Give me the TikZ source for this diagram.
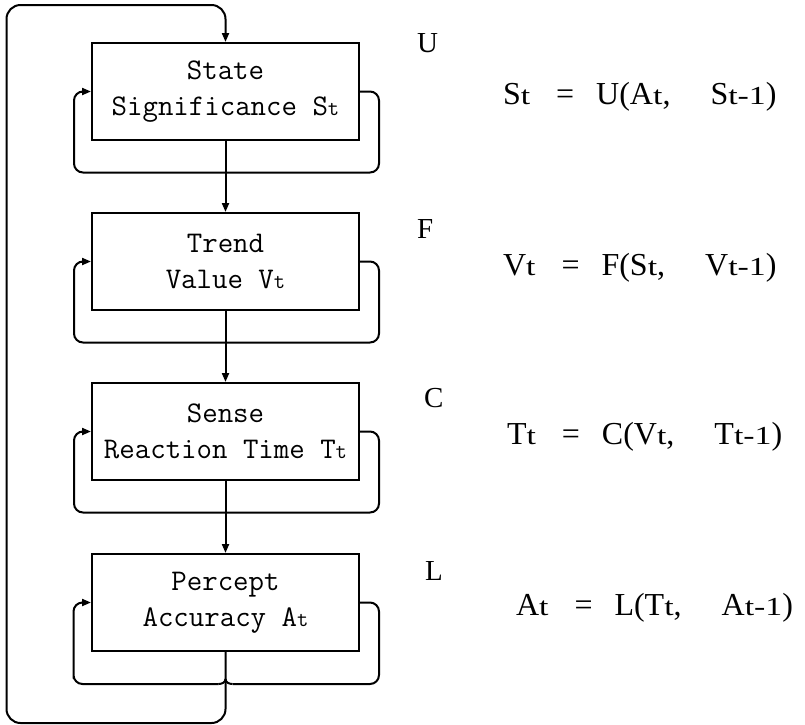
\documentclass[tikz,border=0pt]{standalone}
\usepackage{fontspec}
\setmainfont{Liberation Serif}
\newfontfamily\subfont[FakeStretch=1.3]{Liberation Serif}
\usetikzlibrary{arrows.meta,calc}
\newcommand{\bsub}[1]{{\fontsize{22}{22}\selectfont #1}}
\newcommand{\fsub}[1]{{\subfont\fontsize{26}{26}\selectfont #1}}
\newcommand{\frm}[3]{#1\fsub{t}\hspace{26pt}=\hspace{22pt}#2(#3\fsub{t},\hspace{40pt}#1\fsub{t-1})}
\begin{document}
\begin{tikzpicture}[x=1pt,y=-1pt, line width=2pt,
  box/.style={draw, minimum width=267pt, minimum height=97pt, inner sep=0pt, align=center,
    font=\ttfamily\fontsize{30}{36}\selectfont},
  tip/.style={-{Triangle[length=9pt,width=7pt]}},
  selfloop/.style={rounded corners=9pt, tip},
  lab/.style={font=\fontsize{29}{30}\selectfont, inner sep=0pt, anchor=base west},
  formula/.style={font=\fontsize{32}{32}\selectfont, inner sep=0pt, anchor=base west}]
\useasboundingbox (0,0) rectangle (805,724);

\node[box] (b1) at (225.5,91.5) {State\\Significance S\bsub{t}};
\node[box] (b2) at (225.5,261.5) {Trend\\Value V\bsub{t}};
\node[box] (b3) at (225.5,431.5) {Sense\\Reaction Time T\bsub{t}};
\node[box] (b4) at (225.5,602.5) {Percept\\Accuracy A\bsub{t}};

% vertical connectors
\draw[tip] (b1.south) -- (b2.north);
\draw[tip] (b2.south) -- (b3.north);
\draw[tip] (b3.south) -- (b4.north);

% self loops
\draw[selfloop] (b1.east) -- ++(19,0) -- ++(0,81) -- ++(-305,0) -- ++(0,-81) -- (b1.west);
\draw[selfloop] (b2.east) -- ++(19,0) -- ++(0,81) -- ++(-305,0) -- ++(0,-81) -- (b2.west);
\draw[selfloop] (b3.east) -- ++(19,0) -- ++(0,81) -- ++(-305,0) -- ++(0,-81) -- (b3.west);

% last loop merges into the outer feedback line
\coordinate (j) at ($(b4.south)+(0,32)$);
\draw[rounded corners=9pt] (b4.east) -- ++(19,0) |- ([xshift=7pt]j);
\draw ([xshift=7pt]j) to[out=180,in=-90] ([yshift=5pt]j);
\draw[rounded corners=9pt, tip] ([xshift=-7pt]j) -| ([xshift=-152pt]j) |- (b4.west);
\draw ([xshift=-7pt]j) to[out=0,in=-90] ([yshift=5pt]j);

% outer feedback loop
\draw[rounded corners=14pt, tip] (b4.south) -- ++(0,71) -- ++(-219,0) -- ++(0,-718) -- ++(219,0) -- (b1.north);

% labels
\node[lab] (lu) at (416,52) {U};
\node[lab] (lf) at (416,238) {F};
\node[lab] (lc) at (423,407) {C};
\node[lab] (ll) at (424,580) {L};

% formulas
\node[formula] (f1) at (502,104) {\frm{S}{U}{A}};
\node[formula] (f2) at (502,275) {\frm{V}{F}{S}};
\node[formula] (f3) at (506,444) {\frm{T}{C}{V}};
\node[formula] (f4) at (515,615) {\frm{A}{L}{T}};
\end{tikzpicture}
\end{document}
